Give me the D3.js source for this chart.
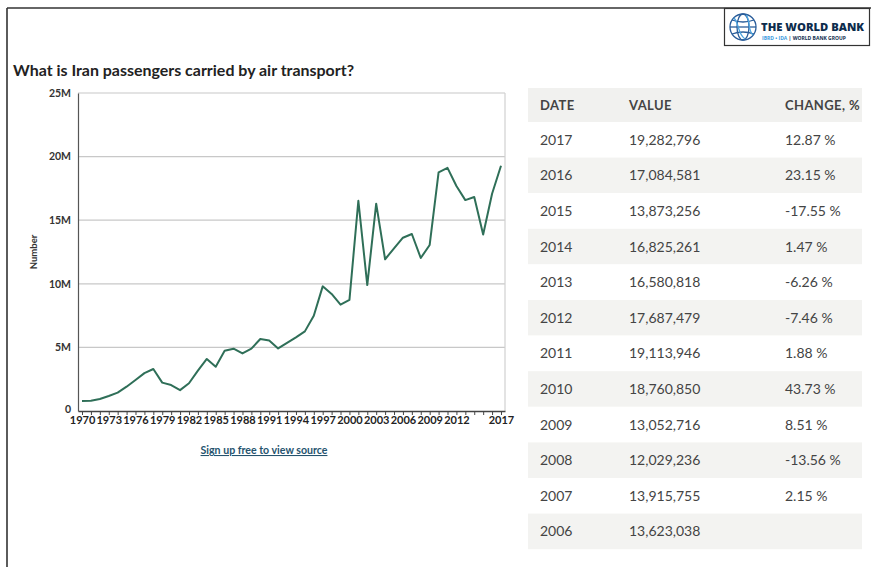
<!DOCTYPE html>
<html><head><meta charset="utf-8">
<script src="https://cdn.jsdelivr.net/npm/d3@7"></script>
<style>
html,body{margin:0;padding:0;background:#fff;}
svg{display:block;}
</style></head><body>
<svg id="c" width="871" height="567"></svg>
<script>
// ---- data ----
const years = [1970,1971,1972,1973,1974,1975,1976,1977,1978,1979,1980,1981,1982,1983,1984,1985,1986,1987,1988,1989,1990,1991,1992,1993,1994,1995,1996,1997,1998,1999,2000,2001,2002,2003,2004,2005,2006,2007,2008,2009,2010,2011,2012,2013,2014,2015,2016,2017];
const passengers = [790000,810000,940000,1180000,1440000,1910000,2440000,2980000,3300000,2230000,2040000,1640000,2180000,3170000,4090000,3480000,4730000,4900000,4530000,4900000,5660000,5550000,4920000,5350000,5790000,6260000,7490000,9800000,9200000,8360000,8730000,16530000,9900000,16300000,11930000,12790000,13623038,13915755,12029236,13052716,18760850,19113946,17687479,16580818,16825261,13873256,17084581,19282796];
const yTicks = [0,5000000,10000000,15000000,20000000,25000000];
const yTickLabels = ["0","5M","10M","15M","20M","25M"];
const xTickLabelYears = [1970,1973,1976,1979,1982,1985,1988,1991,1994,1997,2000,2003,2006,2009,2012,2017];

const tableHeaders = ["DATE","VALUE","CHANGE, %"];
const tableYears = ["2017","2016","2015","2014","2013","2012","2011","2010","2009","2008","2007","2006"];
const tableValues = ["19,282,796","17,084,581","13,873,256","16,825,261","16,580,818","17,687,479","19,113,946","18,760,850","13,052,716","12,029,236","13,915,755","13,623,038"];
const tableChanges = ["12.87 %","23.15 %","-17.55 %","1.47 %","-6.26 %","-7.46 %","1.88 %","43.73 %","8.51 %","-13.56 %","2.15 %",""];

const title = "What is Iran passengers carried by air transport?";
const yAxisTitle = "Number";
const sourceLink = "Sign up free to view source";

// ---- drawing ----
const svg = d3.select("#c");
const font = "Lato, 'Open Sans', sans-serif";

// page frame
svg.append("line").attr("x1",7).attr("x2",871).attr("y1",8).attr("y2",8).attr("stroke","#333").attr("stroke-width",1.3);
svg.append("line").attr("x1",7).attr("x2",7).attr("y1",8).attr("y2",567).attr("stroke","#333").attr("stroke-width",1.6);

// logo
const logo = svg.append("g");
logo.append("rect").attr("x",724.5).attr("y",8.5).attr("width",145).attr("height",37).attr("fill","#fff").attr("stroke","#333").attr("stroke-width",1.2);
const gl = logo.append("g").attr("transform","translate(743,27)").attr("fill","none").attr("stroke","#2a5d9a").attr("stroke-width",1.3);
gl.append("circle").attr("r",13);
gl.append("ellipse").attr("rx",6).attr("ry",13);
gl.append("line").attr("x1",-13).attr("x2",13);
gl.append("path").attr("d","M-11,-7 Q0,-3 11,-7 M-11,7 Q0,3 11,7");
gl.append("path").attr("d","M-9,-9 C-3,-2 -6,6 2,12 M3,-12 C8,-6 4,2 10,8").attr("stroke","#4aa3df");
logo.append("text").attr("x",761).attr("y",31).attr("font-family","'Open Sans', Lato, sans-serif").attr("font-weight",800).attr("font-size",11.2).attr("fill","#0d2c4d").attr("textLength",103).attr("lengthAdjust","spacingAndGlyphs").text("THE WORLD BANK");
const sub = logo.append("text").attr("x",762).attr("y",40).attr("font-family","'Open Sans', sans-serif").attr("font-weight",700).attr("font-size",5);
sub.append("tspan").attr("fill","#3d9be0").text("IBRD • IDA ");
sub.append("tspan").attr("fill","#0d2c4d").text("| WORLD BANK GROUP");

// title
svg.append("text").attr("x",13).attr("y",76).attr("font-family",font).attr("font-weight",700).attr("font-size",15)
  .attr("fill","#222").attr("textLength",341).attr("lengthAdjust","spacingAndGlyphs").text(title);

// chart
const x0 = 78, x1 = 505, y0 = 411, y1 = 93;
const x = d3.scaleLinear().domain([1969.55, 2017.45]).range([x0, x1]);
const y = d3.scaleLinear().domain([0, 25000000]).range([y0, y1]);

// gridlines
svg.append("g").selectAll("line").data(yTicks.slice(1)).join("line")
  .attr("x1",x0).attr("x2",x1).attr("y1",d=>y(d)).attr("y2",d=>y(d))
  .attr("stroke","#c8c8c8").attr("stroke-width",1.2);
svg.append("line").attr("x1",x1).attr("x2",x1).attr("y1",y1).attr("y2",y0).attr("stroke","#d0d0d0").attr("stroke-width",1.2);

// y axis
const yAxis = d3.axisLeft(y).tickValues(yTicks).tickSize(0).tickPadding(7).tickFormat((d,i)=>yTickLabels[i]);
const gy = svg.append("g").attr("transform",`translate(${x0},0)`).call(yAxis);
gy.select(".domain").attr("stroke","#555").attr("stroke-width",1.2);
gy.selectAll("text").attr("font-family",font).attr("font-weight",700).attr("font-size",10.5).attr("fill","#333");
gy.selectAll(".tick").filter(d=>d===0).select("text").attr("dy","0.1em");

// x axis
const xAxis = d3.axisBottom(x).tickValues(years).tickSize(4).tickSizeOuter(0)
  .tickFormat(d => xTickLabelYears.includes(d) ? String(d) : "");
const gx = svg.append("g").attr("transform",`translate(0,${y0})`).call(xAxis);
gx.select(".domain").attr("stroke","#444").attr("stroke-width",1.3);
gx.selectAll(".tick line").attr("stroke","#444");
gx.selectAll("text").attr("font-family",font).attr("font-weight",700).attr("font-size",11).attr("fill","#222").attr("dy","0.55em");

// axis title
svg.append("text").attr("transform","translate(37,252) rotate(-90)").attr("text-anchor","middle")
  .attr("font-family",font).attr("font-weight",700).attr("font-size",9.5).attr("fill","#333").text(yAxisTitle);

// line
const line = d3.line().x((d,i)=>x(years[i])).y(d=>y(d));
svg.append("path").datum(passengers).attr("d",line).attr("fill","none").attr("stroke","#2f6f58").attr("stroke-width",2).attr("stroke-linejoin","round");

// source link
svg.append("text").attr("x",264).attr("y",454).attr("text-anchor","middle").attr("font-family",font).attr("font-weight",700)
  .attr("font-size",10.6).attr("fill","#25536e").attr("text-decoration","underline").text(sourceLink);

// table
const tx = 528, tw = 334, headTop = 88, headH = 34, rowH = 35.6;
const tbl = svg.append("g");
tbl.append("rect").attr("x",tx).attr("y",headTop).attr("width",tw).attr("height",headH).attr("fill","#f1f1ef");
const colX = [540, 629, 785];
tbl.selectAll("text.h").data(tableHeaders).join("text").attr("class","h")
  .attr("x",(d,i)=>colX[i]).attr("y",headTop+headH/2+4.5)
  .attr("font-family",font).attr("font-weight",700).attr("font-size",13).attr("fill","#444").attr("letter-spacing",0.4).text(d=>d);
const rows = tbl.selectAll("g.r").data(tableYears).join("g").attr("class","r")
  .attr("transform",(d,i)=>`translate(0,${headTop+headH+i*rowH})`);
rows.append("rect").attr("x",tx).attr("y",0).attr("width",tw).attr("height",rowH)
  .attr("fill",(d,i)=> i%2===1 ? "#f3f3f1" : "#fff");
const cellText = (sel, col, arr) => sel.append("text").attr("x",colX[col]).attr("y",rowH/2+5)
  .attr("font-family",font).attr("font-size",14).attr("fill","#444").text((d,i)=>arr[i]);
cellText(rows,0,tableYears);
cellText(rows,1,tableValues);
cellText(rows,2,tableChanges);
</script>
</body></html>
